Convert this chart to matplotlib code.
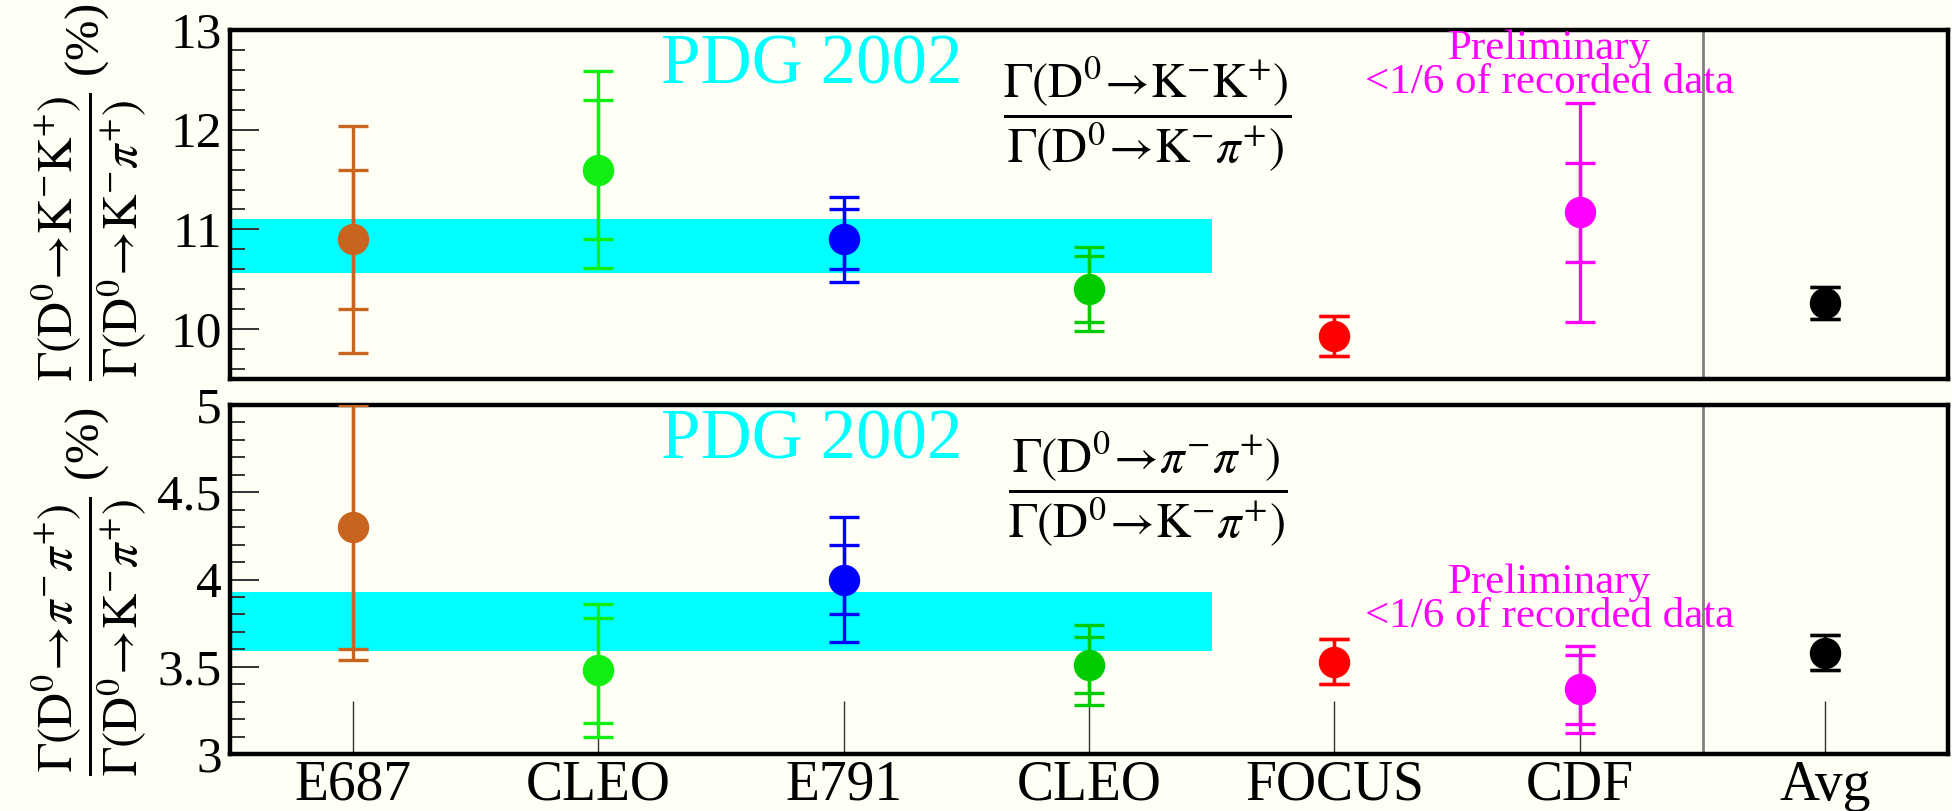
import numpy as np
import matplotlib
matplotlib.use("Agg")
import matplotlib.pyplot as plt
from matplotlib.ticker import MultipleLocator

plt.rcParams["font.family"] = ["Liberation Serif", "DejaVu Serif"]
plt.rcParams["mathtext.fontset"] = "stix"

# categories and colours
labels = ["E687", "CLEO", "E791", "CLEO", "FOCUS", "CDF", "Avg"]
colors = ["#c8641e", "#11ee11", "#0000ff", "#00cc00", "#ff0000", "#ff00ff", "#000000"]

# Gamma(KK)/Gamma(Kpi) in %
kk_val = [10.90, 11.60, 10.90, 10.40, 9.93, 11.17, 10.26]
kk_stat = [0.70, 0.70, 0.30, 0.33, 0.20, 0.50, 0.16]
kk_tot = [1.14, 0.99, 0.43, 0.42, 0.20, 1.10, 0.16]

# Gamma(pipi)/Gamma(Kpi) in %
pp_val = [4.30, 3.48, 4.00, 3.51, 3.53, 3.37, 3.58]
pp_stat = [0.70, 0.30, 0.20, 0.16, 0.13, 0.20, 0.10]
pp_tot = [0.76, 0.38, 0.36, 0.23, 0.13, 0.25, 0.10]

# PDG 2002 bands (low, high) and span in categories
kk_pdg = [10.56, 11.10]
pp_pdg = [3.59, 3.93]
pdg_span = [0.5, 4.5]

BG = "#fffff5"
W, H = 1952, 811


def draw_panel(ax, val, stat, tot, pdg, ylim, major, minor, frac_text, prelim_y):
    x = np.arange(1, len(labels) + 1)
    ax.set_facecolor(BG)
    ax.fill_between(pdg_span, pdg[0], pdg[1], color="#00ffff", lw=0, zorder=1)
    ax.axvline(6.5, color="#808080", lw=2.0, zorder=1.5)

    for i in range(len(labels)):
        ax.errorbar(x[i], val[i], yerr=tot[i], fmt="none", ecolor=colors[i],
                    elinewidth=2.4, capsize=10.5, capthick=2.4, zorder=3)
        ax.errorbar(x[i], val[i], yerr=stat[i], fmt="o", color=colors[i],
                    ms=21.6, elinewidth=2.4, capsize=10.5, capthick=2.4, zorder=3)

    ax.set_xlim(0.5, 7.5)
    ax.set_ylim(*ylim)
    ax.yaxis.set_major_locator(MultipleLocator(major))
    ax.yaxis.set_minor_locator(MultipleLocator(minor))
    ax.tick_params(axis="y", which="major", direction="in", length=21, width=1.4,
                   color="#333333", labelsize=37, pad=6)
    ax.tick_params(axis="y", which="minor", direction="in", length=10.5, width=1.4,
                   color="#333333")
    for s in ax.spines.values():
        s.set_linewidth(3.2)
        s.set_color("black")

    ax.text(0.251, 0.848, "PDG 2002", transform=ax.transAxes, color="#00ffff",
            fontsize=51, ha="left", va="baseline", zorder=4)
    ax.text(0.534, 0.76, frac_text, transform=ax.transAxes, color="black",
            fontsize=35, ha="center", va="center", zorder=4)
    ax.text(0.768, prelim_y + 0.098, "Preliminary", transform=ax.transAxes,
            color="#ff00ff", fontsize=31, ha="center", va="baseline", zorder=4)
    ax.text(0.768, prelim_y, "<1/6 of recorded data", transform=ax.transAxes,
            color="#ff00ff", fontsize=31, ha="center", va="baseline", zorder=4)
    return x


fig = plt.figure(figsize=(W / 100, H / 100), dpi=100, facecolor=BG)
ax1 = fig.add_axes([230 / W, (H - 379) / H, 1718 / W, 349 / H])
ax2 = fig.add_axes([230 / W, (H - 754) / H, 1718 / W, 349 / H])

kk_frac = (r"$\dfrac{\Gamma(\mathrm{D}^{0}\!\rightarrow\!\mathrm{K}^{-}\mathrm{K}^{+})}"
           r"{\Gamma(\mathrm{D}^{0}\!\rightarrow\!\mathrm{K}^{-}\pi^{+})}$")
pp_frac = (r"$\dfrac{\Gamma(\mathrm{D}^{0}\!\rightarrow\!\pi^{-}\pi^{+})}"
           r"{\Gamma(\mathrm{D}^{0}\!\rightarrow\!\mathrm{K}^{-}\pi^{+})}$")

draw_panel(ax1, kk_val, kk_stat, kk_tot, kk_pdg, (9.5, 13), 1, 0.2, kk_frac, 0.82)
x = draw_panel(ax2, pp_val, pp_stat, pp_tot, pp_pdg, (3, 5), 0.5, 0.1, pp_frac, 0.364)

ax1.tick_params(axis="x", length=0, labelbottom=False)
ax2.set_xticks(x)
ax2.set_xticklabels(labels)
ax2.tick_params(axis="x", direction="in", length=38, width=1.0, color="#333333",
                labelsize=40, pad=4)
ax2.set_yticks([3, 3.5, 4, 4.5, 5])
ax2.set_yticklabels(["3", "3.5", "4", "4.5", "5"])

fig.text(0.0456, 0.763, kk_frac + " (%)", rotation=90, fontsize=35,
         ha="center", va="center")
fig.text(0.0456, 0.271, pp_frac + " (%)", rotation=90, fontsize=35,
         ha="center", va="center")

fig.savefig("out.png", dpi=100, facecolor=BG)
